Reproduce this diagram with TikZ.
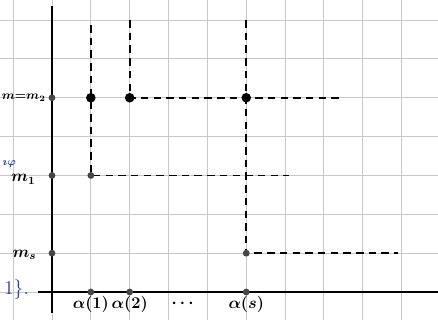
\documentclass[tikz,border=0pt]{standalone}
\usepackage{amsmath,amssymb}
\usepackage{tikz}
\usepackage{xcolor}
\definecolor{gridgray}{RGB}{200,200,200}
\definecolor{dotgray}{RGB}{70,70,70}
\definecolor{inkblue}{RGB}{45,65,140}

\begin{document}
\begin{tikzpicture}[bigdot/.style={circle,fill=black,inner sep=0pt,minimum size=7pt}, smalldot/.style={circle,fill=dotgray,inner sep=0pt,minimum size=5pt}, dashline/.style={line width=1.4pt,dash pattern=on 5.5pt off 3.8pt}]
  \useasboundingbox (-1.338,-0.721) rectangle (9.935,7.516);
  \draw[gridgray, line width=0.7pt] (-1.338,-0.721) grid (9.935,7.516);
  \draw[line width=1.6pt] (-0.36,0) -- (9.935,0); \draw[line width=1.6pt] (0,-0.54) -- (0,7.37);
  % corners and free ends of the dashed paths
  \coordinate (c1) at (1,3); \coordinate (c2) at (2,5); \coordinate (cs) at (5,1);
  \coordinate (t1) at (1,6.87); \coordinate (t2) at (2,7.0); \coordinate (ts) at (5,7.0);
  \coordinate (e1) at (6.1,3); \coordinate (e2) at (7.5,5); \coordinate (es) at (8.9,1);
  \draw[dashline] (t1) -- (c1) -- (e1); \draw[dashline] (t2) -- (c2) -- (e2); \draw[dashline] (ts) -- (cs) -- (es);
  \node[bigdot] (q1) at (1,5) {}; \node[bigdot] (q2) at (c2) {}; \node[bigdot] (q3) at (5,5) {};
  \node[smalldot] (r1) at (c1) {}; \node[smalldot] (rs) at (cs) {};
  % marks on the axes
  \node[smalldot] (m2) at (0,5) {}; \node[smalldot] (m1) at (0,3) {}; \node[smalldot] (ms) at (0,1) {};
  \node[smalldot] (a1) at (1,0) {}; \node[smalldot] (a2) at (2,0) {}; \node[smalldot] (as) at (5,0) {};
  \node[anchor=east, font=\small\boldmath, inner sep=1pt] (lm2) at (-0.12,5) {$m{=}m_2$};
  \node[anchor=east, font=\large\boldmath] (lm1) at (-0.3,2.9) {$m_1$}; \node[anchor=east, font=\large\boldmath] (lms) at (-0.28,0.95) {$m_s$};
  \node[font=\large\boldmath] (la1) at (1,-0.33) {$\alpha(1)$}; \node[font=\large\boldmath] (la2) at (2,-0.33) {$\alpha(2)$};
  \node[font=\large\boldmath] (ldots) at (3.4,-0.3) {$\cdots$}; \node[font=\large\boldmath] (las) at (5,-0.33) {$\alpha(s)$};
  % cut-off notes at the left edge
  \node[anchor=east, inkblue, font=\footnotesize\boldmath] (nb1) at (-0.8,3.3) {$\imath\varphi$};
  \node[anchor=west, inkblue, font=\Large, inner sep=0pt] (nb2) at (-1.24,0.05) {1\}.};
\end{tikzpicture}
\end{document}
